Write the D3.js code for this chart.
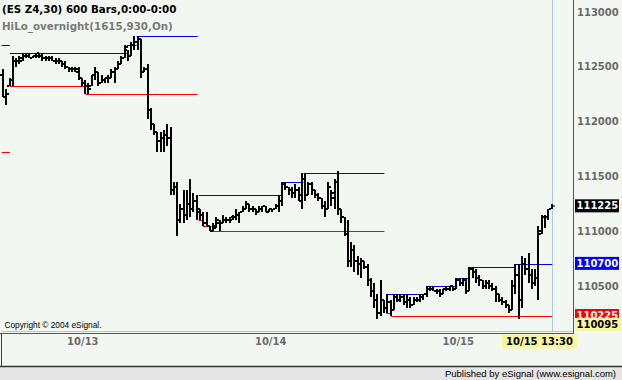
<!DOCTYPE html>
<html><head><meta charset="utf-8">
<script src="https://cdn.jsdelivr.net/npm/d3@7/dist/d3.min.js"></script>
<style>html,body{margin:0;padding:0;background:#f3f7f1;}svg{display:block}</style>
</head><body>
<svg id="chart" width="622" height="380"></svg>
<script>
// ---- data (prices in 1/100 points, as shown on the axis) ----
const highs = [112475,112300,112400,112600,112575,112600,112625,112625,112625,112600,112625,112625,112625,112600,112600,112600,112575,112575,112550,112550,112500,112500,112500,112500,112400,112375,112350,112425,112500,112450,112425,112400,112425,112475,112500,112550,112600,112700,112650,112725,112775,112775,112750,112500,112525,112125,111975,111900,111900,111925,111975,111950,111450,111450,111250,111375,111375,111475,111350,111325,111200,111175,111175,111050,111075,111125,111100,111150,111125,111125,111150,111200,111175,111225,111275,111250,111225,111200,111225,111225,111225,111200,111200,111250,111325,111450,111450,111400,111400,111425,111400,111525,111525,111450,111450,111375,111350,111300,111275,111450,111375,111475,111550,111200,111125,111100,110900,110875,110775,110750,110725,110700,110575,110525,110425,110550,110375,110425,110375,110425,110425,110425,110425,110425,110400,110400,110400,110425,110425,110500,110500,110500,110475,110475,110475,110500,110500,110500,110575,110575,110575,110575,110675,110675,110650,110600,110550,110550,110550,110525,110500,110425,110400,110375,110325,110550,110700,110700,110775,110750,110800,110650,110650,111050,111150,111150,111200,111250];
const lows  = [112225,112150,112325,112325,112500,112525,112550,112575,112575,112575,112575,112575,112550,112550,112550,112550,112525,112525,112500,112475,112450,112450,112450,112375,112325,112250,112250,112325,112375,112325,112350,112350,112350,112400,112350,112475,112525,112575,112550,112600,112650,112650,112400,112450,112025,111925,111875,111725,111725,111725,111775,111325,111325,110950,111075,111075,111100,111125,111175,111100,111100,111050,111050,111000,111000,111025,111000,111075,111075,111075,111100,111100,111075,111175,111200,111175,111175,111150,111175,111175,111175,111175,111175,111200,111175,111225,111375,111325,111300,111300,111275,111200,111275,111325,111325,111300,111275,111200,111125,111200,111225,111200,111150,111075,110950,110675,110675,110625,110600,110575,110650,110500,110400,110300,110200,110225,110250,110250,110225,110275,110350,110350,110325,110300,110300,110325,110350,110350,110375,110400,110450,110450,110425,110400,110425,110450,110450,110450,110475,110500,110500,110425,110450,110575,110525,110500,110475,110475,110475,110450,110350,110350,110325,110300,110250,110275,110425,110200,110300,110600,110525,110475,110500,110375,110975,111025,111100,111200];
const opens = [112425,112225,112325,112375,112550,112550,112550,112600,112600,112575,112600,112600,112600,112575,112575,112575,112550,112550,112550,112525,112500,112475,112475,112475,112400,112350,112325,112325,112425,112450,112350,112375,112400,112400,112450,112475,112525,112575,112650,112600,112700,112725,112750,112450,112475,112100,111975,111900,111825,111850,111875,111850,111375,111400,111100,111200,111150,111250,111200,111275,111175,111150,111075,111050,111000,111050,111075,111075,111100,111100,111100,111125,111150,111175,111200,111250,111200,111200,111175,111200,111225,111175,111200,111200,111225,111275,111425,111400,111375,111350,111375,111275,111475,111325,111425,111375,111325,111300,111225,111200,111400,111350,111450,111200,111125,110975,110725,110825,110725,110700,110725,110675,110550,110450,110375,110250,110375,110300,110350,110275,110400,110375,110400,110350,110375,110325,110375,110375,110400,110425,110475,110475,110450,110450,110425,110475,110475,110500,110475,110550,110525,110550,110450,110650,110625,110575,110550,110500,110525,110500,110475,110425,110375,110350,110325,110275,110500,110600,110375,110700,110650,110600,110525,110575,110975,111125,111125,111200];
const closes= [112225,112250,112375,112550,112550,112575,112600,112600,112575,112600,112625,112600,112575,112575,112575,112550,112550,112550,112525,112500,112475,112475,112450,112400,112350,112325,112300,112425,112450,112350,112375,112400,112400,112450,112475,112525,112575,112675,112600,112700,112725,112750,112450,112475,112100,111975,111900,111825,111850,111875,111850,111375,111400,111100,111200,111150,111250,111200,111275,111200,111150,111075,111050,111000,111025,111100,111075,111100,111100,111125,111125,111150,111175,111200,111250,111200,111200,111175,111200,111225,111175,111200,111200,111225,111275,111425,111400,111375,111350,111375,111325,111475,111325,111425,111375,111325,111300,111225,111200,111400,111300,111450,111200,111125,110975,110725,110825,110725,110700,110725,110675,110550,110450,110375,110250,110375,110300,110350,110275,110400,110375,110400,110350,110375,110325,110375,110375,110400,110425,110475,110475,110450,110450,110425,110475,110475,110500,110475,110550,110525,110550,110450,110650,110625,110575,110550,110500,110525,110500,110475,110425,110375,110350,110325,110275,110500,110600,110375,110700,110650,110600,110525,110575,111000,111125,111125,111200,111225];

// HiLo_overnight step lines: [fromBar, toBar, price]
const hiSegments = [[-0.4,2.1,112700],[2.1,37.7,112625],[37.7,40.7,112700],[40.7,59.3,112775],
                    [59.6,84.8,111325],[84.8,91.5,111450],[91.5,116.1,111525],
                    [116.7,128.9,110425],[128.9,138.3,110500],[138.3,141.9,110575],[141.9,155.6,110675],[155.6,167.2,110700]];
const loSegments = [[-0.4,2.1,111725],[2.1,25.2,112325],[25.2,59.3,112250],
                    [59.6,60.8,111100],[60.8,63.5,111050],[63.5,116.1,111000],
                    [116.7,118.2,110250],[118.2,167.2,110225]];

const priceTicks = [113000,112500,112000,111500,111000,110500];
const dateLabels = ["10/13","10/14","10/15"];
const dateBars   = [24.3, 81.5, 138.6];
const lastTimeLabel = "10/15 13:30";
const markerValues = [111225, 110700, 110225, 110095];
const markerFills  = ["#000000","#0000ff","#ff0000","#f7f79e"];
const markerText   = ["#ffffff","#ffffff","#ffffff","#000000"];

// ---- layout ----
const svg = d3.select("#chart");
const W = 622, H = 380;
const plotRight = 573, plotBottom = 331;
const x = d3.scaleLinear().domain([0, highs.length - 1]).range([3, 551.5]);
const y = d3.scaleLinear().domain([110000, 113000]).range([340.6, 11.8]);

svg.append("rect").attr("width", W).attr("height", H).attr("fill", "#f3f7f1");

const defs = svg.append("defs");
defs.append("clipPath").attr("id","plotclip")
  .append("rect").attr("x",0).attr("y",0).attr("width",plotRight).attr("height",plotBottom);

const plot = svg.append("g").attr("clip-path","url(#plotclip)");

// current bar marker line
plot.append("line").attr("x1", Math.round(x(highs.length-1))+0.5).attr("x2", Math.round(x(highs.length-1))+0.5)
  .attr("y1",0).attr("y2",plotBottom).attr("stroke","#a9cbe8").attr("stroke-width",1);

// overnight lines
function drawSegs(segs, color){
  plot.selectAll(null).data(segs).enter().append("line")
    .attr("x1", d => x(d[0])).attr("x2", d => x(d[1]))
    .attr("y1", d => Math.round(y(d[2])) + 0.5).attr("y2", d => Math.round(y(d[2])) + 0.5)
    .attr("stroke", color).attr("stroke-width", 1);
}
drawSegs(hiSegments, "#0000ff");
drawSegs(loSegments, "#ff0000");

// OHLC bars
const idx = d3.range(highs.length);
const bars = plot.append("g");
bars.selectAll(".hl").data(idx).enter().append("rect")
  .attr("x", i => Math.round(x(i)) - 1).attr("width", 2)
  .attr("y", i => Math.round(y(highs[i])))
  .attr("height", i => Math.max(2, Math.round(y(lows[i])) - Math.round(y(highs[i]))))
  .attr("fill", "#000");
bars.selectAll(".op").data(idx).enter().append("rect")
  .attr("x", i => Math.round(x(i)) - 3).attr("width", 2)
  .attr("y", i => Math.round(y(opens[i])) - 1).attr("height", 2)
  .attr("fill", "#000");
bars.selectAll(".cl").data(idx).enter().append("rect")
  .attr("x", i => Math.round(x(i)) + 1).attr("width", 2)
  .attr("y", i => Math.round(y(closes[i])) - 1).attr("height", 2)
  .attr("fill", (d,i) => i === highs.length - 1 ? "#8b5a2b" : "#000");

// frame lines
svg.append("line").attr("x1",2).attr("x2",plotRight).attr("y1",plotBottom+0.5).attr("y2",plotBottom+0.5)
  .attr("stroke","#a9cbe8");
svg.append("line").attr("x1",0).attr("x2",plotRight+1).attr("y1",333.5).attr("y2",333.5)
  .attr("stroke","#555");
svg.append("line").attr("x1",plotRight+0.5).attr("x2",plotRight+0.5).attr("y1",0).attr("y2",334)
  .attr("stroke","#555");
svg.append("line").attr("x1",1.5).attr("x2",1.5).attr("y1",333).attr("y2",366)
  .attr("stroke","#444");

// right price axis
const axisG = svg.append("g").attr("transform", `translate(${plotRight+3},0)`);
const yAxis = d3.axisRight(y).tickValues(priceTicks).tickSize(0).tickPadding(0).tickFormat(d3.format("d"));
axisG.call(yAxis);
axisG.select(".domain").remove();
axisG.selectAll("text").attr("fill","#6b6b6b").attr("font-family","DejaVu Sans").attr("font-weight","bold")
  .attr("font-size","10px").attr("x",1);

// price markers (later boxes sit on top of earlier ones, as in the reference)
const mk = svg.append("g");
const yellowTop = plotBottom - 13;
markerValues.forEach((v, k) => {
  const cy = Math.min(y(v) - 0.5, plotBottom - 6.5);
  const w = k === 3 ? 46 : 44;
  const g = mk.append("g");
  if (k === 2) {
    // the low-line label is partly hidden under the yellow cursor label
    defs.append("clipPath").attr("id","redclip").append("rect")
      .attr("x", plotRight + 2).attr("y", cy - 6.5).attr("width", w).attr("height", yellowTop - (cy - 6.5));
    g.attr("clip-path","url(#redclip)");
  }
  g.append("rect").attr("x", plotRight + 2).attr("y", cy - 6.5).attr("width", w).attr("height", 13)
    .attr("fill", markerFills[k]);
  g.append("text").attr("x", plotRight + 3.5).attr("y", cy).attr("dy","0.36em")
    .attr("fill", markerText[k]).attr("font-family","DejaVu Sans").attr("font-weight","bold")
    .attr("font-size","10px").text(d3.format("d")(v));
});

// date axis
const xg = svg.append("g");
xg.selectAll("text").data(dateLabels).enter().append("text")
  .attr("x", (d,k) => x(dateBars[k])).attr("y", 341).attr("dy","0.36em")
  .attr("text-anchor","middle").attr("fill","#6b6b6b").attr("font-family","DejaVu Sans")
  .attr("font-weight","bold").attr("font-size","10px").text(d => d);
xg.append("rect").attr("x", 502).attr("y", 334.5).attr("width", 75).attr("height", 14).attr("fill","#f7f79e");
xg.append("text").attr("x", 539.5).attr("y", 341.5).attr("dy","0.36em").attr("text-anchor","middle")
  .attr("fill","#000").attr("font-family","DejaVu Sans").attr("font-weight","bold").attr("font-size","10px")
  .text(lastTimeLabel);

// titles
svg.append("text").attr("x",2).attr("y",13).attr("font-family","DejaVu Sans").attr("font-weight","bold")
  .attr("font-size","10.3px").attr("fill","#000").text("(ES Z4,30) 600 Bars,0:00-0:00");
svg.append("text").attr("x",2).attr("y",30).attr("font-family","DejaVu Sans").attr("font-weight","bold")
  .attr("font-size","10.3px").attr("fill","#7a7a7a").text("HiLo_overnight(1615,930,On)");
svg.append("text").attr("x",4.5).attr("y",327.5).attr("font-family","Liberation Sans")
  .attr("font-size","8.3px").attr("fill","#000").text("Copyright \u00a9 2004 eSignal.");

// footer
svg.append("rect").attr("x",0).attr("y",367).attr("width",W).attr("height",13).attr("fill","#e6e6e6");
svg.append("line").attr("x1",0).attr("x2",W).attr("y1",366.5).attr("y2",366.5).attr("stroke","#333").attr("stroke-width",1.5);
svg.append("text").attr("x",616).attr("y",377).attr("text-anchor","end").attr("font-family","Liberation Sans")
  .attr("font-size","9.5px").attr("fill","#000").text("Published by eSignal (www.esignal.com)");
</script>
</body></html>
